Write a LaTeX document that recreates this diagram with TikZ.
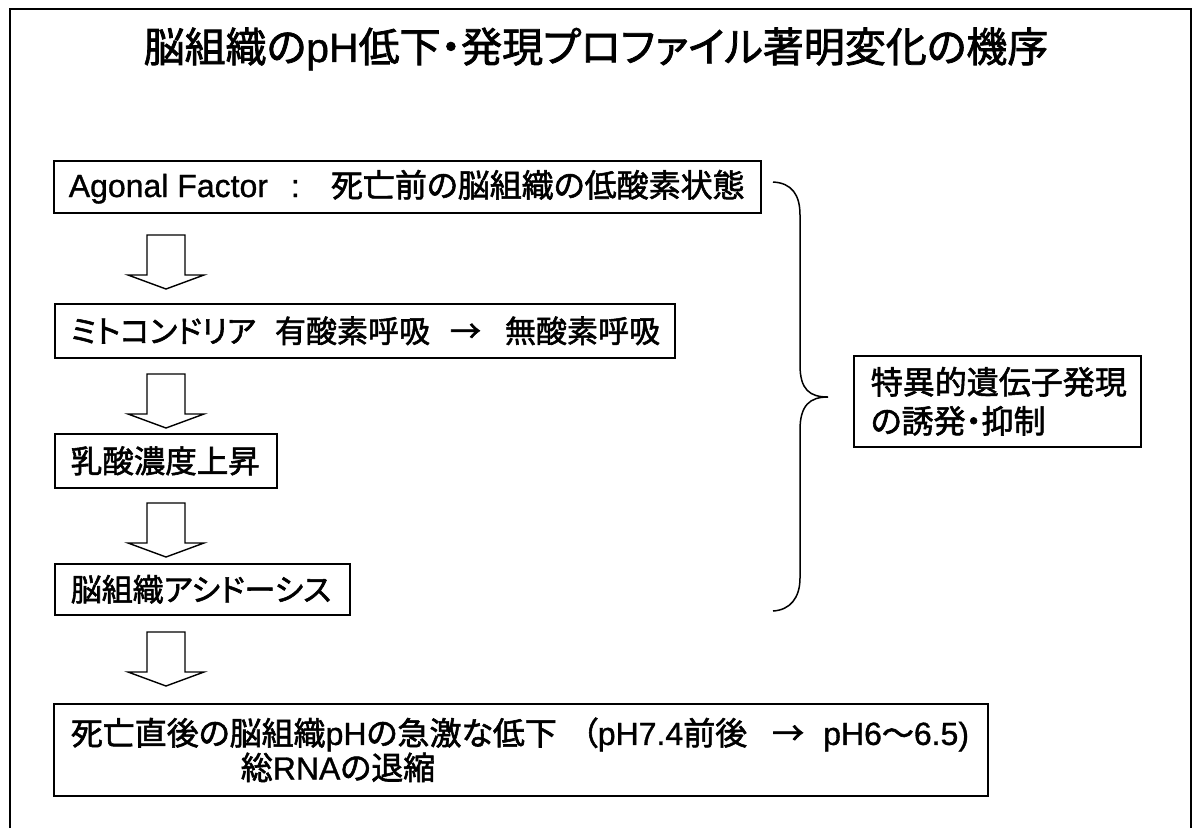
\documentclass[tikz,border=0pt]{standalone}
\usepackage{fontspec}
\setmainfont{Liberation Sans}[FakeBold=1]
\newfontfamily\jpf[RawFeature={+palt},FakeBold=1.8]{Noto Sans CJK JP}
\newcommand\J[1]{{\jpf #1}}
\begin{document}
\begin{tikzpicture}[x=1pt,y=-1pt,
  box/.style={draw, line width=1.6pt, anchor=north west, inner ysep=0pt, align=left},
  blockarrow/.style={draw, line width=1.4pt, line join=miter},
  bracestyle/.style={draw, line width=1.5pt}]
\useasboundingbox (0,0) rectangle (1193,828);
% outer frame
\draw[line width=2pt] (10,828) -- (10,9) -- (1191,9) -- (1191,828);
% title
\node (title) at (596,49) {\fontsize{41}{41}\selectfont\J{脳組織の}pH\J{低下・発現プロファイル著明変化の機序}};
% boxes
\node[box, text width=677pt, inner xsep=15pt, minimum height=52pt, font=\fontsize{32}{36}\selectfont] (b1) at (53,160)
  {\mbox{Agonal\hspace{8.9pt}Factor\hspace{23pt}:\hspace{31pt}\J{死亡前の脳組織の低酸素状態}}};
\node[box, text width=588pt, inner xsep=16pt, minimum height=54pt, font=\fontsize{31}{36}\selectfont] (b2) at (54,303)
  {\mbox{\J{ミトコンドリア}\hspace{19pt}\J{有酸素呼吸}\hspace{20pt}\J{→}\hspace{24pt}\J{無酸素呼吸}}};
\node[box, text width=190pt, inner xsep=16pt, minimum height=54pt, font=\fontsize{31.5}{36}\selectfont] (b3) at (54,433)
  {\mbox{\J{乳酸濃度上昇}}};
\node[box, text width=263pt, inner xsep=16pt, minimum height=51pt, font=\fontsize{31}{34}\selectfont] (b4) at (54,563)
  {\mbox{\J{脳組織アシドーシス}}};
\node[box, text width=900pt, inner xsep=17pt, minimum height=92pt, font=\fontsize{32}{32}\selectfont] (b5) at (53,703)
  {\mbox{\J{死亡直後の脳組織}pH\J{の急激な低下}\hspace{25pt}\J{（}pH7.4\J{前後}\hspace{25pt}\J{→}\hspace{19pt}pH6\J{〜}6.5)}\\
   \mbox{\hspace*{170pt}\J{総}RNA\J{の退縮}}};
\node[box, text width=253pt, inner xsep=17pt, minimum height=91pt, font=\fontsize{32}{39}\selectfont] (b6) at (853,355)
  {\J{特異的遺伝子発現}\\\J{の誘発・抑制}};
% block arrows
\coordinate (a1) at (166,235);
\coordinate (a2) at (166,374);
\coordinate (a3) at (166,503);
\coordinate (a4) at (166,632);
\foreach \c in {a1,a2,a3,a4}{
  \draw[blockarrow] (\c) ++(-19,0) -- ++(0,40) -- ++(-19,0) -- ++(38,14) -- ++(38,-14) -- ++(-19,0) -- ++(0,-40) -- cycle;
}
% brace
\draw[bracestyle] (773,182) .. controls (792,183) and (800,195) .. (800,215) -- (800,365)
  .. controls (800,390) and (810,397) .. (828,397)
  .. controls (810,397) and (800,405) .. (800,430) -- (800,578)
  .. controls (800,598) and (790,610) .. (773,611);
\end{tikzpicture}
\end{document}
